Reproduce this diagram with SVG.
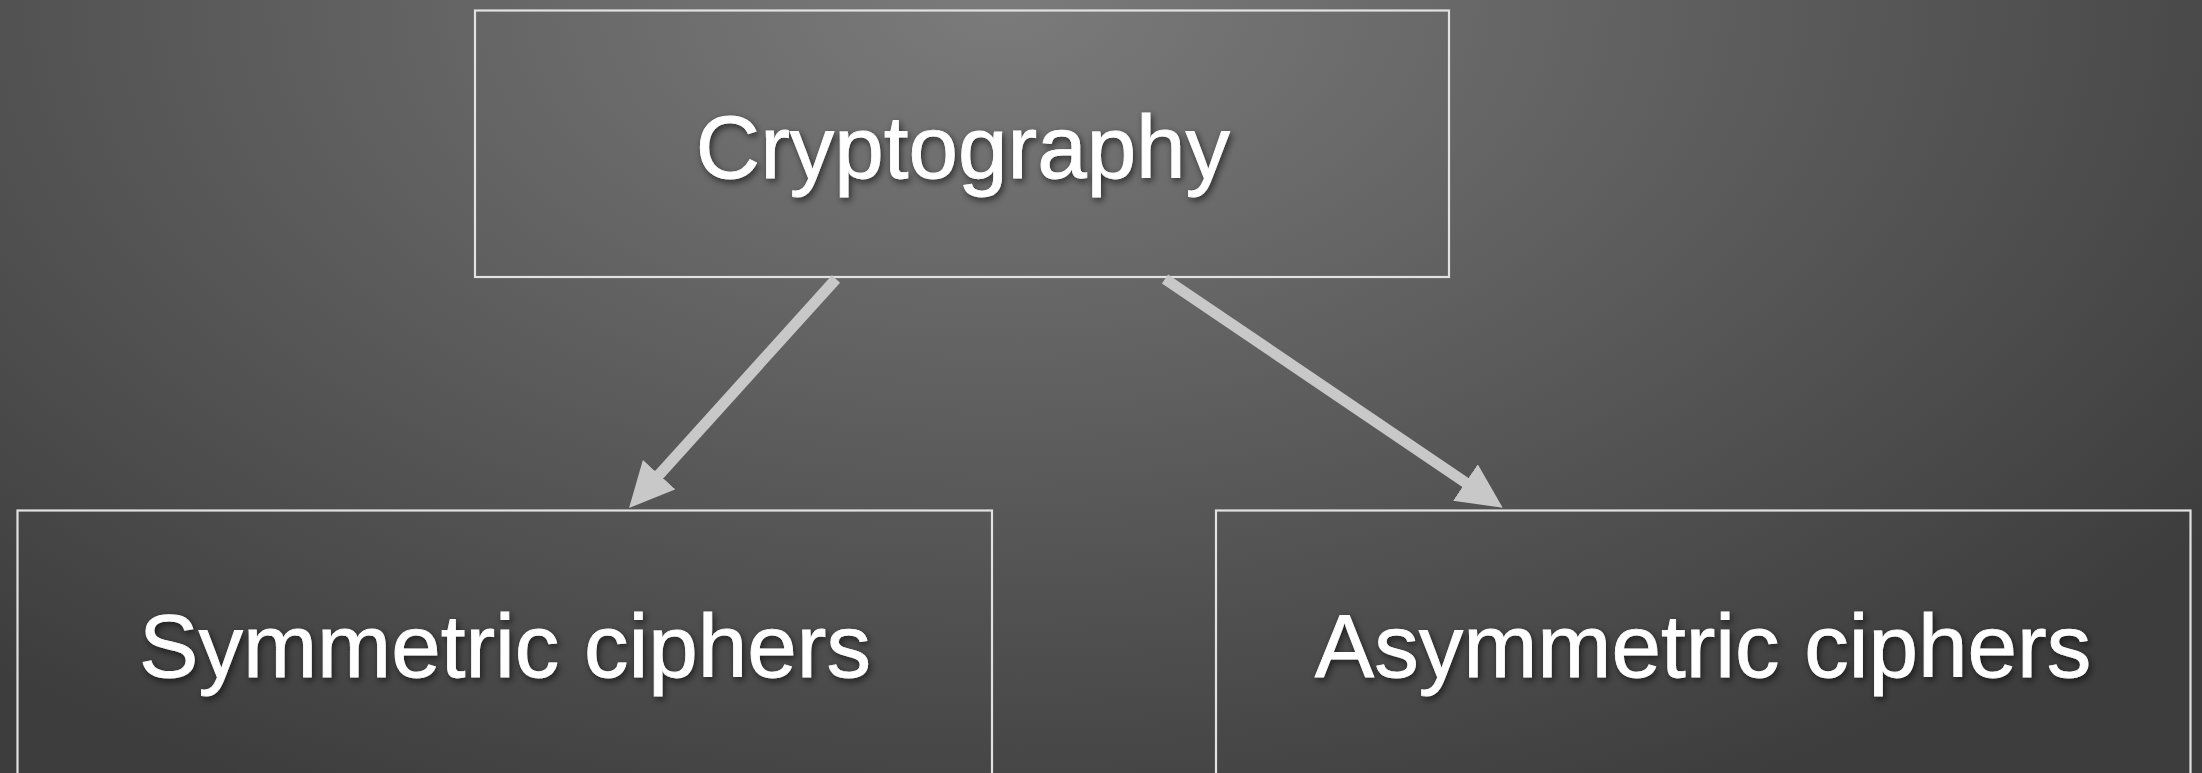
<svg xmlns="http://www.w3.org/2000/svg" width="2202" height="773" viewBox="0 0 2202 773">
  <defs>
    <radialGradient id="bg" gradientUnits="userSpaceOnUse" cx="0" cy="0" r="1" gradientTransform="translate(1000 0) scale(1500 900)">
      <stop offset="0" stop-color="#7b7b7b"/>
      <stop offset="1" stop-color="#3d3d3d"/>
    </radialGradient>
    <filter id="shadow" x="-10%" y="-30%" width="120%" height="160%">
      <feDropShadow dx="2" dy="3" stdDeviation="3.5" flood-color="#000" flood-opacity="0.6"/>
    </filter>
    <marker id="head" markerUnits="userSpaceOnUse" markerWidth="48" markerHeight="48" viewBox="0 0 48 48" refX="20" refY="22" orient="auto">
      <path d="M0,0 L45,22 L0,44 Z" fill="#c8c8c8"/>
    </marker>
  </defs>
  <style>
    .box { fill: none; stroke: #e2e2e2; stroke-width: 2.2; }
    .label { font-family: "Liberation Sans", Arial, Helvetica, sans-serif; font-size: 89px; fill: #ffffff; stroke: #ffffff; stroke-width: 0.8; text-anchor: middle; filter: url(#shadow); }
    .edge { stroke: #c8c8c8; stroke-width: 11; fill: none; marker-end: url(#head); }
  </style>

  <rect width="2202" height="773" fill="url(#bg)"/>

  <g id="node-cryptography">
    <rect class="box" x="475" y="10.5" width="974" height="266.5"/>
    <text class="label" x="963" y="178">Cryptography</text>
  </g>

  <g id="node-symmetric">
    <rect class="box" x="17.5" y="510.5" width="974.5" height="280"/>
    <text class="label" x="505" y="677">Symmetric ciphers</text>
  </g>

  <g id="node-asymmetric">
    <rect class="box" x="1216" y="510.5" width="974.5" height="280"/>
    <text class="label" x="1703" y="677">Asymmetric ciphers</text>
  </g>

  <g id="connectors">
    <line class="edge" x1="836" y1="279" x2="645.8" y2="489.5"/>
    <line class="edge" x1="1165" y1="279" x2="1482" y2="493.7"/>
  </g>
</svg>
